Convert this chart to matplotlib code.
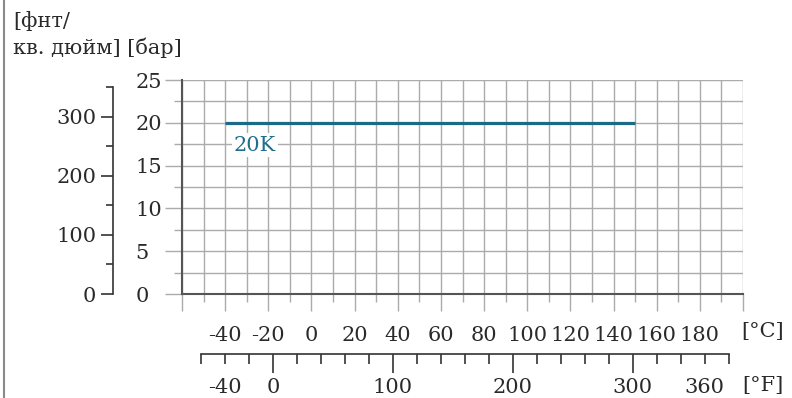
import numpy as np
import matplotlib
matplotlib.use("Agg")
import matplotlib.pyplot as plt
from matplotlib.lines import Line2D
from matplotlib.ticker import FixedLocator

plt.rcParams['font.family'] = ['DejaVu Serif']
plt.rcParams['font.size'] = 15

# data
temp_c = [-40, 150]          # [°C]
press_bar = [20, 20]         # [bar]
class_label = "20K"

c_labels = [-40, -20, 0, 20, 40, 60, 80, 100, 120, 140, 160, 180]
f_labels = [-40, 0, 100, 200, 300, 360]
f_long = [0, 100, 200, 300]
bar_labels = [0, 5, 10, 15, 20, 25]
psi_labels = [0, 100, 200, 300]

PSI_PER_BAR = 14.5038
W, H = 792, 398
TXT = '#2a2a2a'
GRID = '#ababab'
LINE = '#1b6a87'

fig = plt.figure(figsize=(W / 100, H / 100), dpi=100)

# main chart: pixel box left 182, right 743, top 80, bottom 294
x0, x1, ytop, ybot = 182, 743, 80, 294
cmin, cmax = -60, 200
ax = fig.add_axes([x0 / W, 1 - ybot / H, (x1 - x0) / W, (ybot - ytop) / H])
ax.set_xlim(cmin, cmax)
ax.set_ylim(0, 25)

def cx(c):
    # pixel x of a celsius value
    return x0 + (c - cmin) / (cmax - cmin) * (x1 - x0)

xmaj = np.arange(-60, 201, 20)
ax.set_xticks(xmaj, [str(v) if v in c_labels else '' for v in xmaj])
ax.xaxis.set_minor_locator(FixedLocator(np.arange(-50, 200, 20)))
ax.set_yticks(bar_labels, [str(v) for v in bar_labels])
ax.yaxis.set_minor_locator(FixedLocator(np.arange(2.5, 25, 5)))

ax.grid(which='both', color=GRID, lw=1.0, zorder=0)
ax.set_axisbelow(True)
ax.tick_params(which='major', length=12, color=GRID, width=1.0, labelcolor=TXT)
ax.tick_params(which='minor', length=6, color=GRID, width=1.0)
ax.tick_params(axis='x', which='major', pad=11)
ax.tick_params(axis='y', which='major', pad=21.6)
for lab in ax.get_yticklabels():
    lab.set_horizontalalignment('left')
for s in ['top', 'right']:
    ax.spines[s].set_visible(False)
for s in ['left', 'bottom']:
    ax.spines[s].set_color('#555555')
    ax.spines[s].set_linewidth(1.5)

ax.plot(temp_c, press_bar, color=LINE, lw=2.3, solid_capstyle='butt', zorder=3)
ax.text(-35.9, 17.4, class_label, color='#1f6e8c', ha='left', va='center',
        bbox=dict(fc='white', ec='none', pad=1.5), zorder=4)

# psi axis, separate scale to the left
psi_max = 350
h_psi = (ybot - ytop) * (psi_max / PSI_PER_BAR) / 25
ax_psi = fig.add_axes([113 / W, 1 - ybot / H, 0.001, h_psi / H])
ax_psi.set_ylim(0, psi_max)
ax_psi.patch.set_visible(False)
for s in ['top', 'right', 'bottom']:
    ax_psi.spines[s].set_visible(False)
ax_psi.spines['left'].set_color('#333333')
ax_psi.spines['left'].set_linewidth(1.2)
ax_psi.set_xticks([])
ax_psi.set_yticks(psi_labels, [str(v) for v in psi_labels])
ax_psi.yaxis.set_minor_locator(FixedLocator([50, 150, 250, 350]))
ax_psi.tick_params(axis='y', which='major', length=9, width=1.2, color='#333333',
                   pad=3, labelcolor=TXT)
ax_psi.tick_params(axis='y', which='minor', length=5, width=1.2, color='#333333')

# fahrenheit axis below
fmin, fmax = -60, 380
fl, fr = cx((fmin - 32) / 1.8), cx((fmax - 32) / 1.8)
ax_f = fig.add_axes([fl / W, 1 - 354 / H, (fr - fl) / W, 0.001])
ax_f.set_xlim(fmin, fmax)
ax_f.patch.set_visible(False)
for s in ['top', 'right', 'left']:
    ax_f.spines[s].set_visible(False)
ax_f.spines['bottom'].set_color('#333333')
ax_f.spines['bottom'].set_linewidth(1.2)
ax_f.set_yticks([])
fmaj = np.arange(fmin, fmax + 1, 20)
ax_f.set_xticks(fmaj, [str(v) if v in f_labels else '' for v in fmaj])
ax_f.tick_params(axis='x', length=7, width=1.2, color='#333333', pad=10,
                 labelcolor=TXT)
for v, t in zip(fmaj, ax_f.xaxis.get_major_ticks()):
    if v in f_long:
        t.tick1line.set_markersize(14)

# unit labels
fig.text(763 / W, 1 - 332 / H, '[°C]', ha='center', va='center', color=TXT)
fig.text(763 / W, 1 - 385 / H, '[°F]', ha='center', va='center', color=TXT)
fig.text(13 / W, 1 - 21 / H, '[фнт/', ha='left', va='center', color=TXT)
fig.text(13 / W, 1 - 48 / H, 'кв. дюйм] [бар]', ha='left', va='center', color=TXT)

# frame edge on the left
fig.add_artist(Line2D([4 / W, 4 / W], [0, 1], transform=fig.transFigure,
                      color='#8a8a8a', lw=1.5))

fig.savefig('out.png', dpi=100)
